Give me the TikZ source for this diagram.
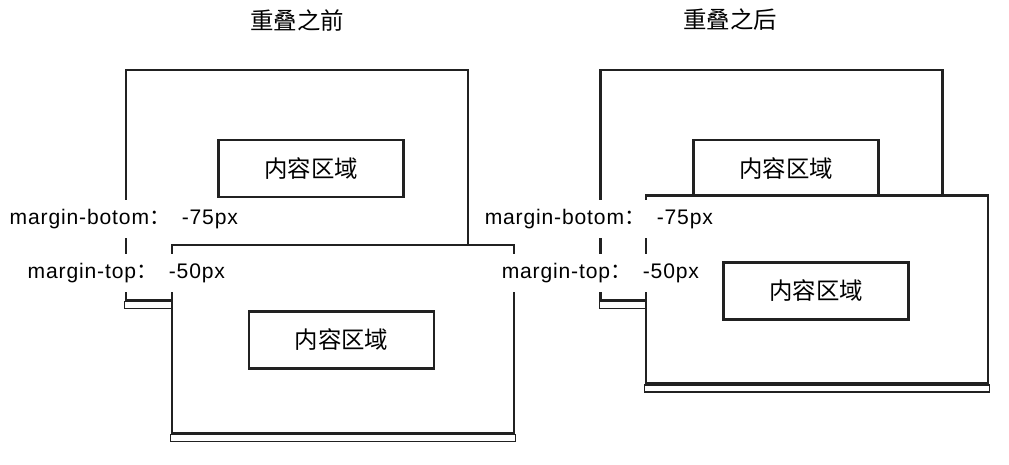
\documentclass[tikz,border=0pt]{standalone}
\usepackage{fontspec}
\setmainfont{Liberation Sans}
\newfontfamily\cjk{Noto Sans CJK SC}
\usepackage{tikz}
\usetikzlibrary{calc}
\usetikzlibrary{positioning}
\definecolor{ink}{rgb}{0.13,0.13,0.13}

\begin{document}
\begin{tikzpicture}[
            x = 0.03cm, y = -0.03cm, % one unit per pixel, y going down
            line join = miter
        ]

        \tikzstyle{outer}=[
            draw = ink,
            fill = white,
            line width = 2.3pt,
            minimum width = 10.26cm,
            inner sep = 0pt
        ]
        \tikzstyle{tall}=[minimum height = 6.9cm]
        \tikzstyle{short}=[minimum height = 5.64cm]
        \tikzstyle{content}=[
            draw = ink,
            fill = white,
            line width = 2.3pt,
            minimum width = 5.55cm,
            minimum height = 1.71cm,
            font = \cjk\fontsize{20pt}{22pt}\selectfont
        ]
        \tikzstyle{base}=[draw = ink, line width = 1.1pt]
        \tikzstyle{margin}=[
            fill = white,
            anchor = west,
            inner xsep = 3pt,
            minimum height = 1.14cm,
            font = \fontsize{18pt}{20pt}\selectfont\addfontfeature{LetterSpace=4}
        ]
        \tikzstyle{title}=[font = \cjk\fontsize{20pt}{22pt}\selectfont]

        \useasboundingbox (0,0) rectangle (1009,464);

	% before overlap
        \node[title] (T1) at (297,20) {重叠之前};
        \node[outer, tall] (A) at (297,185) {};
        \draw[base] (A.south west) rectangle ($(A.south east)+(0,7)$);
        \node[content] (IA) at (311,168.5) {内容区域};
        \node[outer, short] (B) at (343,339) {};
        \draw[base] (B.south west) rectangle ($(B.south east)+(0,7)$);
        \node[content] (IB) at (341.5,340) {内容区域};

	% after overlap
        \node[title] (T2) at (730,20) {重叠之后};
        \node[outer, tall] (C) at (771.5,185) {};
        \draw[base] (C.south west) rectangle ($(C.south east)+(0,7)$);
        \node[content] (IC) at (786,168.5) {内容区域};
        \node[outer, short] (D) at (817,289.5) {};
        \draw[base] (D.south west) rectangle ($(D.south east)+(0,7)$);
        \node[content] (ID) at (816,291) {内容区域};

         % margin labels
         \node[margin] (MB1) at (6,219) {margin-botom{\cjk ：}\hspace{0.55em}-75px};
         \node[margin] (MT1) at (24,273) {margin-top{\cjk ：}\hspace{0.55em}-50px};
         \node[margin] (MB2) at (481,219) {margin-botom{\cjk ：}\hspace{0.55em}-75px};
         \node[margin] (MT2) at (498,273) {margin-top{\cjk ：}\hspace{0.55em}-50px};

  \end{tikzpicture}
\end{document}
